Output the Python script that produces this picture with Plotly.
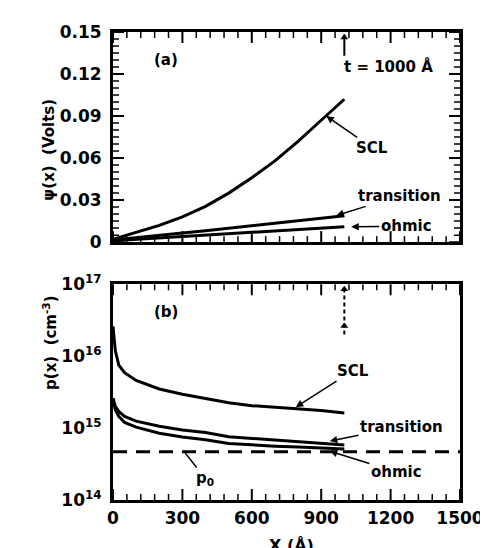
import math
import plotly.graph_objects as go

# ---- data ----
x_psi = [0, 100, 200, 300, 400, 500, 600, 700, 800, 900, 1000]
psi_scl = [0.002, 0.007, 0.012, 0.018, 0.0255, 0.035, 0.046, 0.058, 0.072, 0.087, 0.102]
psi_transition = [0.0015, 0.003, 0.0048, 0.0065, 0.0082, 0.0100, 0.0118, 0.0135, 0.0153, 0.0170, 0.0188]
psi_ohmic = [0.001, 0.002, 0.003, 0.004, 0.005, 0.006, 0.007, 0.008, 0.009, 0.010, 0.011]

x_p = [0, 10, 25, 50, 100, 200, 300, 400, 500, 600, 700, 800, 900, 1000]
p_scl = [2.6e16, 1.2e16, 7.5e15, 5.9e15, 4.6e15, 3.5e15, 2.95e15, 2.6e15, 2.25e15, 2.05e15, 1.95e15, 1.85e15, 1.75e15, 1.62e15]
p_transition = [2.6e15, 2.0e15, 1.7e15, 1.45e15, 1.25e15, 1.06e15, 9.4e14, 8.7e14, 7.6e14, 7.2e14, 6.85e14, 6.5e14, 6.1e14, 5.8e14]
p_ohmic = [2.6e15, 1.8e15, 1.45e15, 1.2e15, 1.03e15, 8.5e14, 7.5e14, 6.9e14, 6.1e14, 5.8e14, 5.6e14, 5.45e14, 5.25e14, 5.1e14]
p0_x = [0, 1500]
p0_val = 4.7e14
thickness = 1000

x_ticks = [0, 300, 600, 900, 1200, 1500]
x_minor = [v for v in range(60, 1500, 60) if v % 300]
psi_ticks = [0, 0.03, 0.06, 0.09, 0.12, 0.15]
psi_ticktext = ["0", "0.03", "0.06", "0.09", "0.12", "0.15"]
psi_minor = [i * 0.005 for i in range(1, 30) if i % 6]
p_ticks = [1e14, 1e15, 1e16, 1e17]
p_ticktext = ["10<sup>14</sup>", "10<sup>15</sup>", "10<sup>16</sup>", "10<sup>17</sup>"]
p_minor = [k * 10 ** e for e in (14, 15, 16) for k in range(2, 10)]

FONT = "DejaVu Sans"
line = dict(color="black", width=3)

fig = go.Figure()
fig.add_trace(go.Scatter(x=x_psi, y=psi_scl, mode="lines", line=line, xaxis="x", yaxis="y"))
fig.add_trace(go.Scatter(x=x_psi, y=psi_transition, mode="lines", line=line, xaxis="x", yaxis="y"))
fig.add_trace(go.Scatter(x=x_psi, y=psi_ohmic, mode="lines", line=line, xaxis="x", yaxis="y"))

fig.add_trace(go.Scatter(x=x_p, y=p_scl, mode="lines", line=line, xaxis="x2", yaxis="y2"))
fig.add_trace(go.Scatter(x=x_p, y=p_transition, mode="lines", line=line, xaxis="x2", yaxis="y2"))
fig.add_trace(go.Scatter(x=x_p, y=p_ohmic, mode="lines", line=line, xaxis="x2", yaxis="y2"))
fig.add_trace(go.Scatter(x=p0_x, y=[p0_val, p0_val], mode="lines",
                         line=dict(color="black", width=3, dash="14px,9px"), xaxis="x2", yaxis="y2"))

# thickness markers (t = 1000 Å): small up arrows at x = t
fig.add_trace(go.Scatter(x=[thickness, thickness], y=[0.133, 0.148], mode="lines",
                         line=dict(color="black", width=2), xaxis="x", yaxis="y"))
fig.add_trace(go.Scatter(x=[thickness], y=[0.146], mode="markers", cliponaxis=False,
                         marker=dict(symbol="triangle-up", size=7, color="black"), xaxis="x", yaxis="y"))
fig.add_trace(go.Scatter(x=[thickness, thickness], y=[10 ** 16.3, 10 ** 16.98], mode="lines",
                         line=dict(color="black", width=2, dash="4px,3px"), xaxis="x2", yaxis="y2"))
fig.add_trace(go.Scatter(x=[thickness, thickness], y=[10 ** 16.93, 10 ** 16.42], mode="markers",
                         marker=dict(symbol="triangle-up", size=7, color="black"), xaxis="x2", yaxis="y2"))

tickfont = dict(family=FONT, size=17, color="black", weight="bold")
axis_common = dict(showline=True, linecolor="black", linewidth=3, mirror=True, ticks="",
                   showgrid=False, zeroline=False, tickfont=tickfont)

fig.update_layout(
    width=488, height=548,
    margin=dict(l=105, r=26, t=15, b=56),
    paper_bgcolor="white", plot_bgcolor="white",
    showlegend=False,
    xaxis=dict(axis_common, domain=[0, 1], range=[0, 1500], tickmode="array", tickvals=x_ticks,
               showticklabels=False, anchor="y"),
    yaxis=dict(axis_common, domain=[0.551, 1], range=[0, 0.15], tickmode="array", tickvals=psi_ticks,
               ticktext=psi_ticktext, anchor="x", ticklabelstandoff=5),
    xaxis2=dict(axis_common, domain=[0, 1], range=[0, 1500], tickmode="array", tickvals=x_ticks,
                anchor="y2", ticklabelstandoff=1),
    yaxis2=dict(axis_common, domain=[0, 0.461], type="log", range=[14, 17],
                tickmode="array", tickvals=p_ticks, ticktext=p_ticktext, anchor="x2", ticklabelstandoff=5),
)

# tick marks on all four sides (inside), drawn as pixel-sized shapes at axis values
shapes = []
MAJ, MIN = 11, 6


def xticks(vals, xref, ydom, length, width):
    for v in vals:
        for anchor, sgn in ((0, 1), (1, -1)):
            shapes.append(dict(type="line", xref=xref, yref=ydom, x0=v, x1=v,
                               ysizemode="pixel", yanchor=anchor, y0=0, y1=sgn * length,
                               line=dict(color="black", width=width)))


def yticks(vals, yref, xdom, length, width):
    for v in vals:
        for anchor, sgn in ((0, 1), (1, -1)):
            shapes.append(dict(type="line", xref=xdom, yref=yref, y0=v, y1=v,
                               xsizemode="pixel", xanchor=anchor, x0=0, x1=sgn * length,
                               line=dict(color="black", width=width)))


xticks(x_ticks, "x", "y domain", MAJ, 2)
xticks(x_minor, "x", "y domain", MIN, 1.5)
yticks(psi_ticks, "y", "x domain", MAJ, 2)
yticks(psi_minor, "y", "x domain", MIN, 1.5)
xticks(x_ticks, "x2", "y2 domain", MAJ, 2)
xticks(x_minor, "x2", "y2 domain", MIN, 1.5)
yticks([math.log10(v) for v in p_ticks], "y2", "x2 domain", MAJ, 2)
yticks([math.log10(v) for v in p_minor], "y2", "x2 domain", MIN, 1.5)
fig.update_layout(shapes=shapes)

tf = dict(family=FONT, size=15, color="black", weight="bold")
arr = dict(showarrow=True, arrowhead=2, arrowsize=1, arrowwidth=1.5, arrowcolor="black")
ann = []
# axis titles
ann.append(dict(text="ψ(x)  (Volts)", xref="paper", yref="paper", x=-0.216, y=0.862,
                textangle=-90, showarrow=False, font=tf))
ann.append(dict(text="p(x)  (cm<sup>-3</sup>)", xref="paper", yref="paper", x=-0.216, y=0.231,
                textangle=-90, showarrow=False, font=tf))
ann.append(dict(text="X (Å)", xref="paper", yref="paper", x=0.513, y=-0.097,
                yanchor="middle", showarrow=False, font=dict(tf, size=16)))
# panel (a)
ann.append(dict(text="(a)", xref="x", yref="y", x=231, y=0.130, showarrow=False, font=tf))
ann.append(dict(text="t = 1000 Å", xref="x", yref="y", x=1189, y=0.1255, showarrow=False, font=tf))
ann.append(dict(arr, text="SCL", xref="x", yref="y", x=922, y=0.090, ax=1121, ay=0.0673,
                axref="x", ayref="y", font=tf))
ann.append(dict(arr, text="transition", xref="x", yref="y", x=965, y=0.019, ax=1239, ay=0.033,
                axref="x", ayref="y", font=tf))
ann.append(dict(arr, text="ohmic", xref="x", yref="y", x=1030, y=0.011, ax=1268, ay=0.0112,
                axref="x", ayref="y", font=tf))
# panel (b)
ann.append(dict(text="(b)", xref="x2", yref="y2", x=231, y=16.62, showarrow=False, font=tf))
ann.append(dict(arr, text="SCL", xref="x2", yref="y2", x=790, y=15.29, ax=1037, ay=15.80,
                axref="x2", ayref="y2", font=tf))
ann.append(dict(arr, text="transition", xref="x2", yref="y2", x=937, y=14.82, ax=1247, ay=15.02,
                axref="x2", ayref="y2", font=tf))
ann.append(dict(arr, text="ohmic", xref="x2", yref="y2", x=937, y=14.68, ax=1225, ay=14.39,
                axref="x2", ayref="y2", font=tf))
ann.append(dict(arr, text="p<sub>0</sub>", xref="x2", yref="y2", x=306, y=14.68, ax=399, ay=14.30,
                axref="x2", ayref="y2", font=tf, arrowhead=0))
fig.update_layout(annotations=ann)

fig.write_html("out.html")
